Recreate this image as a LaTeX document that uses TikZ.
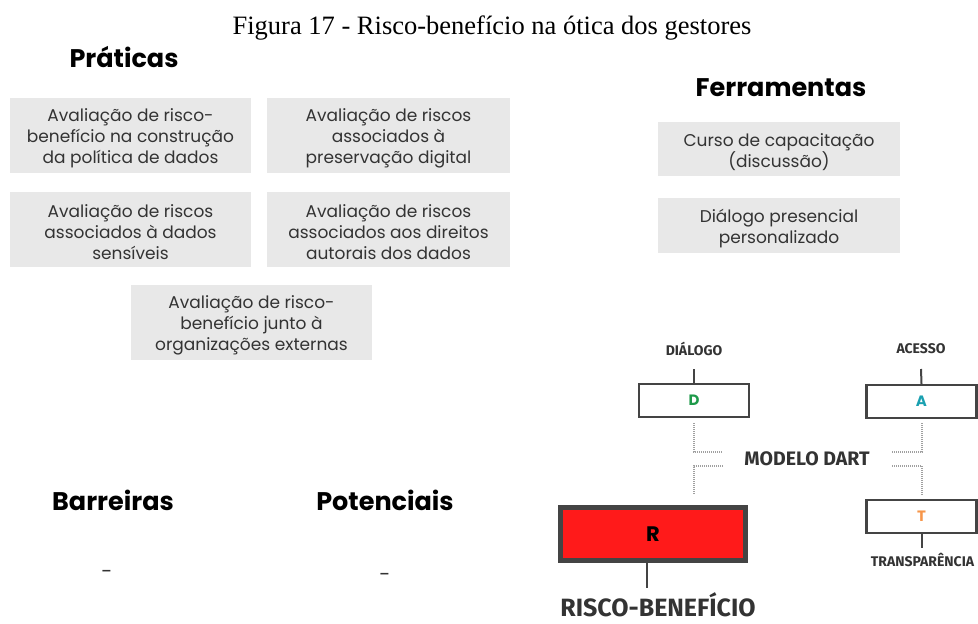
\documentclass[tikz,border=0pt]{standalone}
\usepackage{fontspec}
\setmainfont{Liberation Serif}
\newfontfamily\pop{Poppins}
\newfontfamily\fira{Fira Sans}
\definecolor{boxgray}{HTML}{E8E8E8}
\definecolor{txt}{HTML}{333333}
\definecolor{frame}{HTML}{444444}
\definecolor{dgreen}{HTML}{1E9A4A}
\definecolor{teal}{HTML}{1AA0B0}
\definecolor{orng}{HTML}{F7964A}
\definecolor{rred}{HTML}{FF1A1A}
\definecolor{dotc}{HTML}{A0A0A0}
\tikzset{
  gbox/.style={fill=boxgray, draw=none, align=center, inner sep=0pt, text=txt,
    font=\pop\fontsize{17}{21}\selectfont},
  head/.style={font=\pop\bfseries\fontsize{25.5}{28}\selectfont, text=black, inner sep=0pt},
  lab/.style={font=\fira\bfseries\fontsize{14}{16}\selectfont, text=txt, inner sep=0pt},
  dbox/.style={draw=frame, line width=2.2pt, fill=white, minimum width=110pt, minimum height=33pt, inner sep=0pt,
    font=\pop\bfseries\fontsize{15}{17}\selectfont},
  dline/.style={draw=dotc, dash pattern=on 1pt off 1pt, line width=1.1pt},
  sline/.style={draw=frame, line width=2pt},
  dashtxt/.style={font=\pop\fontsize{20}{22}\selectfont, text=txt, inner sep=0pt},
}
\begin{document}
\begin{tikzpicture}[x=1pt,y=-1pt]
\useasboundingbox (0,0) rectangle (978,624);
\node[font=\fontsize{26.5}{30}\selectfont, inner sep=0pt] (title) at (492,28) {Figura 17 - Risco-benefício na ótica dos gestores};
% Praticas
\node[head] (prat) at (124,57) {Práticas};
\node[gbox, minimum width=241pt, minimum height=75pt] (p1) at (130.5,135.5) {\rule{0pt}{19pt}Avaliação de risco-\\benefício na construção\\da política de dados};
\node[gbox, minimum width=243pt, minimum height=75pt] (p2) at (388.5,135.5) {\rule{0pt}{19pt}Avaliação de riscos\\associados à\\preservação digital};
\node[gbox, minimum width=241pt, minimum height=75pt] (p3) at (130.5,229.5) {\rule{0pt}{19pt}Avaliação de riscos\\associados à dados\\sensíveis};
\node[gbox, minimum width=243pt, minimum height=75pt] (p4) at (388.5,229.5) {\rule{0pt}{19pt}Avaliação de riscos\\associados aos direitos\\autorais dos dados};
\node[gbox, minimum width=241pt, minimum height=75pt] (p5) at (251.5,322.5) {\rule{0pt}{19pt}Avaliação de risco-\\benefício junto à\\organizações externas};
% Ferramentas
\node[head] (ferr) at (781,88) {Ferramentas};
\node[gbox, minimum width=242pt, minimum height=54pt] (f1) at (779,149) {\rule{0pt}{19pt}Curso de capacitação\\(discussão)};
\node[gbox, minimum width=242pt, minimum height=55pt] (f2) at (779,225.5) {\rule{0pt}{19pt}Diálogo presencial\\personalizado};
% Barreiras / Potenciais
\node[head] (bar) at (113,500) {Barreiras};
\node[head] (pot) at (385,500) {Potenciais};
\node[dashtxt] (bd) at (107,574) {-};
\node[dashtxt] (pd) at (385,577) {-};
% DART
\node[lab] (ldia) at (694,349) {DIÁLOGO};
\node[lab] (lace) at (921,349) {ACESSO};
\node[dbox, text=dgreen] (D) at (694,400.5) {D};
\node[dbox, text=teal] (A) at (921.5,401.5) {A};
\node[dbox, text=orng] (T) at (921.5,516.5) {T};
\node[lab] (ltra) at (922.5,560) {TRANSPARÊNCIA};
\node[font=\fira\bfseries\fontsize{19.5}{22}\selectfont, text=txt, inner sep=0pt] (dart) at (807,459) {MODELO DART};
\node[draw=frame, line width=5pt, fill=rred, minimum width=185pt, minimum height=53pt, inner sep=0pt,
  font=\pop\bfseries\fontsize{21}{23}\selectfont] (R) at (653,534) {R};
\node[font=\fira\bfseries\fontsize{25}{27}\selectfont, text=txt, inner sep=0pt] (lrb) at (658,605) {RISCO-BENEFÍCIO};
\coordinate (c1) at (694,369);
\coordinate (c2) at (921,369);
\coordinate (c3) at (922,548);
\coordinate (c4) at (647,588);
\draw[sline] (c1) -- (D.north);
\draw[sline] (c2) -- (A.north);
\draw[sline] (T.south -| c3) -- (c3);
\draw[sline] (R.south -| c4) -- (c4);
\coordinate (d1) at (694,423);
\coordinate (d2) at (723,452);
\coordinate (d3) at (723,466);
\coordinate (d4) at (694,495);
\coordinate (a1) at (922,423);
\coordinate (a2) at (892,452);
\coordinate (a3) at (892,466);
\coordinate (a4) at (922,495);
\draw[dline] (d1) |- (d2);
\draw[dline] (d3) -| (d4);
\draw[dline] (a1) |- (a2);
\draw[dline] (a3) -| (a4);
\end{tikzpicture}
\end{document}
